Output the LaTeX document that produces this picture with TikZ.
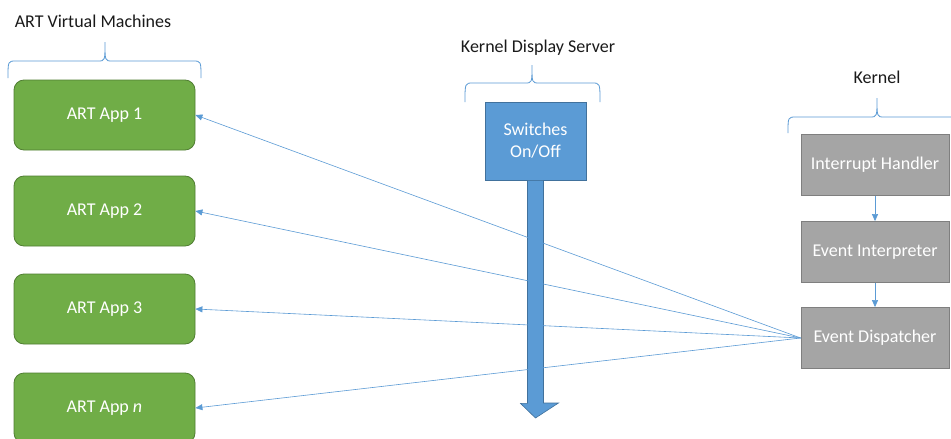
\documentclass[tikz,border=0pt]{standalone}
\usepackage{fontspec}
\setmainfont{Carlito}
\usetikzlibrary{arrows.meta}
\definecolor{appgreen}{HTML}{70AD47}
\definecolor{appgreenline}{HTML}{507E32}
\definecolor{kblue}{HTML}{5B9BD5}
\definecolor{kblueline}{HTML}{41719C}
\definecolor{kgray}{HTML}{A5A5A5}
\definecolor{kgrayline}{HTML}{7F7F7F}
\definecolor{labelcol}{HTML}{1A1A1A}
\tikzset{
  appbox/.style={draw=appgreenline, fill=appgreen, rounded corners=10pt, minimum width=181pt, minimum height=70pt, text=white, font=\fontsize{18}{21}\selectfont, inner sep=0pt, line width=0.8pt},
  kbox/.style={draw=kgrayline, fill=kgray, minimum width=148pt, minimum height=61pt, text=white, font=\fontsize{18}{21}\selectfont, inner sep=0pt, line width=0.8pt},
  swbox/.style={draw=kblueline, fill=kblue, minimum width=101pt, minimum height=78pt, text=white, font=\fontsize{18}{22}\selectfont, inner sep=0pt, align=center, line width=0.8pt},
  grouplabel/.style={text=labelcol, font=\fontsize{18}{21}\selectfont, inner sep=0pt},
  bracestyle/.style={draw=kblue, line width=0.8pt},
  fan/.style={draw=kblue, line width=0.6pt, -{Triangle[length=7pt,width=6pt]}},
  bigarrow/.style={fill=kblue, draw=kblueline, line width=0.6pt}
}
\begin{document}
\begin{tikzpicture}[x=1pt,y=-1pt]
\useasboundingbox (0,0) rectangle (951,439);
\clip (0,0) rectangle (951,439);
\fill[white] (0,0) rectangle (951,439);

% group labels
\node[grouplabel] (lvm) at (93,21) {ART Virtual Machines};
\node[grouplabel] (lkds) at (538,48) {Kernel Display Server};
\node[grouplabel] (lk) at (877,77) {Kernel};

% braces
\path[bracestyle] (8,78) .. controls (8,61) .. (16,61) -- (98,61) .. controls (105,61) .. (105,42) .. controls (105,61) .. (112,61) -- (193,61) .. controls (201,61) .. (201,78);
\path[bracestyle] (465,102) .. controls (465,83) .. (473,83) -- (525,83) .. controls (532,83) .. (532,65) .. controls (532,83) .. (539,83) -- (592,83) .. controls (600,83) .. (600,102);
\path[bracestyle] (788,133) .. controls (788,117) .. (796,117) -- (870,117) .. controls (877,117) .. (877,98) .. controls (877,117) .. (884,117) -- (958,117) .. controls (966,117) .. (966,133);

% ART apps
\node[appbox] (a1) at (104.5,115) {ART App 1};
\node[appbox] (a2) at (104.5,211) {ART App 2};
\node[appbox] (a3) at (104.5,309) {ART App 3};
\node[appbox] (an) at (104.5,408) {ART App \textit{n}};

% kernel display server
\node[swbox] (sw) at (535.5,141) {Switches\\On/Off};
\path[bigarrow] ([xshift=-8pt]sw.south) -- ++(0,223) -- ++(-7,0) -- (sw.south |- 0,418) -- ([xshift=23pt]sw.south |- 0,403) -- ([xshift=8pt]sw.south |- 0,403) -- ([xshift=8pt]sw.south) -- cycle;

% kernel
\node[kbox] (ih) at (875,165) {Interrupt Handler};
\node[kbox] (ei) at (875,252) {Event Interpreter};
\node[kbox] (ed) at (875,338) {Event Dispatcher};

\draw[fan] (ih) -- (ei);
\draw[fan] (ei) -- (ed);
\draw[fan] (ed.west) -- (a1.east);
\draw[fan] (ed.west) -- (a2.east);
\draw[fan] (ed.west) -- (a3.east);
\draw[fan] (ed.west) -- (an.east);
\end{tikzpicture}
\end{document}
